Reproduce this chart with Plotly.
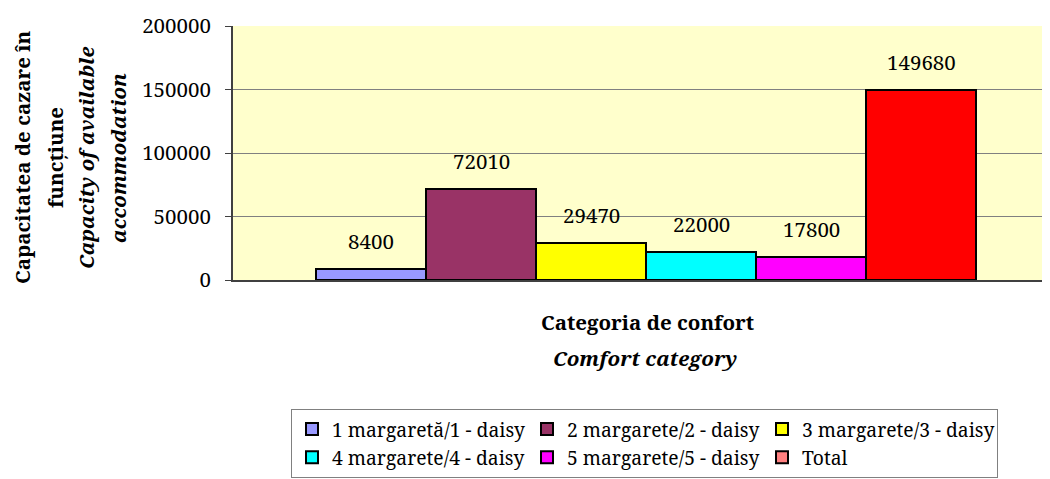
import plotly.graph_objects as go

categories = ["1 margaretă/1 - daisy", "2 margarete/2 - daisy", "3 margarete/3 - daisy",
              "4 margarete/4 - daisy", "5 margarete/5 - daisy", "Total"]
values = [8400, 72010, 29470, 22000, 17800, 149680]
bar_colors = ["#9999FF", "#993366", "#FFFF00", "#00FFFF", "#FF00FF", "#FF0000"]
legend_colors = ["#9999FF", "#993366", "#FFFF00", "#00FFFF", "#FF00FF", "#FF8080"]
y_ticks = [0, 50000, 100000, 150000, 200000]

FONT = "Noto Serif"
FS = 20.5
LFS = 19.3
TFS = 20.5

# page body has an 8px margin; plot area: screen x 233.., y 26..280
W, H = 1050, 479
PL, PT, PB = 225, 18, 207
PW = W - PL
PH = H - PT - PB


def px(sx):
    return (sx - 233) / PW


def py(sy):
    return (280 - sy) / PH


fig = go.Figure()
for i, (c, v) in enumerate(zip(categories, values)):
    same = bar_colors[i] == legend_colors[i]
    fig.add_trace(go.Bar(
        x=[c], y=[v], name=c, width=1,
        marker=dict(color=bar_colors[i], line=dict(color="black", width=2)),
        showlegend=same,
    ))
    if not same:
        fig.add_trace(go.Bar(
            x=[c], y=[None], name=c, width=1,
            marker=dict(color=legend_colors[i], line=dict(color="black", width=2)),
            showlegend=True,
        ))

annotations = []
for c, v in zip(categories, values):
    annotations.append(dict(
        x=c, y=v, xref="x", yref="y", text=str(v), showarrow=False,
        yanchor="middle", yshift=28, font=dict(family=FONT, size=FS, color="black")))

# x-axis title (two lines)
annotations.append(dict(x=px(647), y=py(322), xref="paper", yref="paper",
                        text="<b>Categoria de confort</b>", showarrow=False,
                        xanchor="center", yanchor="middle",
                        font=dict(family=FONT, size=TFS, color="black")))
annotations.append(dict(x=px(645), y=py(358), xref="paper", yref="paper",
                        text="<b><i>Comfort category</i></b>", showarrow=False,
                        xanchor="center", yanchor="middle",
                        font=dict(family=FONT, size=TFS, color="black")))

# y-axis title (four columns)
y_title_lines = [("<b>Capacitatea de cazare în</b>", 22),
                 ("<b>funcțiune</b>", 55),
                 ("<b><i>Capacity of available</i></b>", 86),
                 ("<b><i>accommodation</i></b>", 118)]
for txt, sx in y_title_lines:
    annotations.append(dict(x=px(sx), y=py(158), xref="paper", yref="paper",
                            text=txt, showarrow=False, textangle=-90,
                            xanchor="center", yanchor="middle",
                            font=dict(family=FONT, size=TFS, color="black")))

fig.update_layout(
    width=W, height=H,
    margin=dict(l=PL, r=0, t=PT, b=PB, autoexpand=False),
    paper_bgcolor="white", plot_bgcolor="#FFFFCC",
    barmode="overlay", bargap=0,
    font=dict(family=FONT, size=FS, color="black"),
    xaxis=dict(type="category", categoryorder="array", categoryarray=categories,
               range=[-1.2545, -1.2545 + PW / 110], showticklabels=False, ticks="",
               showgrid=False, showline=True, linecolor="#404040", linewidth=2,
               zeroline=False, fixedrange=True),
    yaxis=dict(range=[0, 200000], tickvals=y_ticks, ticktext=[str(t) for t in y_ticks],
               showgrid=True, gridcolor="#808080", gridwidth=1,
               showline=True, linecolor="#404040", linewidth=2,
               ticks="outside", ticklen=6, tickcolor="#404040", tickwidth=1,
               ticklabelstandoff=10, zeroline=False,
               tickfont=dict(family=FONT, size=FS, color="black")),
    legend=dict(orientation="h", x=px(291), xanchor="left",
                y=py(409), yanchor="top",
                bordercolor="#808080", borderwidth=1, bgcolor="white",
                entrywidth=190, entrywidthmode="pixels", itemwidth=30,
                font=dict(family=FONT, size=LFS, color="black"),
                traceorder="normal"),
    annotations=annotations,
    showlegend=True,
)

fig.write_html("out.html")
